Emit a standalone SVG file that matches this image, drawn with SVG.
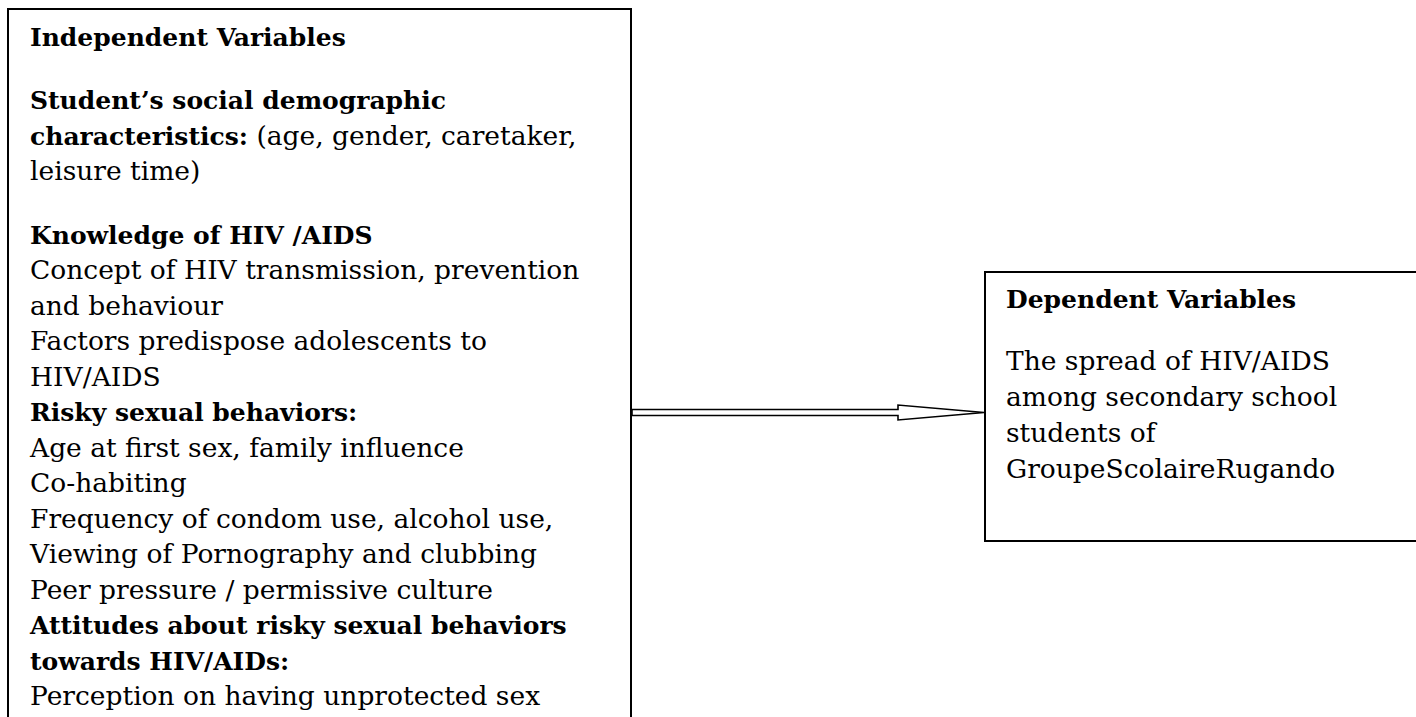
<svg xmlns="http://www.w3.org/2000/svg" width="1416" height="717" viewBox="0 0 1416 717">
<style>
  .box { fill: #ffffff; stroke: #000000; stroke-width: 2; }
  text { font-family: "DejaVu Serif", "Liberation Serif", serif; font-size: 26.5px; fill: #000000; }
  .b { font-weight: bold; font-size: 25px; }
  .arrow { fill: #ffffff; stroke: #000000; stroke-width: 1.6; stroke-linejoin: miter; }
</style>
<rect width="1416" height="717" fill="#ffffff"/>
<g id="independent">
  <rect class="box" x="8" y="9" width="623" height="720"/>
  <text x="30" y="46" class="b">Independent Variables</text>
  <text x="30" y="109" class="b">Student’s social demographic</text>
  <text x="30" y="144.5"><tspan class="b">characteristics:</tspan> (age, gender, caretaker,</text>
  <text x="30" y="180">leisure time)</text>
  <text x="30" y="243.5" class="b">Knowledge of HIV /AIDS</text>
  <text x="30" y="279">Concept of HIV transmission, prevention</text>
  <text x="30" y="314.5">and behaviour</text>
  <text x="30" y="350">Factors predispose adolescents to</text>
  <text x="30" y="385.5">HIV/AIDS</text>
  <text x="30" y="421" class="b">Risky sexual behaviors:</text>
  <text x="30" y="456.5">Age at first sex, family influence</text>
  <text x="30" y="492">Co-habiting</text>
  <text x="30" y="527.5">Frequency of condom use, alcohol use,</text>
  <text x="30" y="563">Viewing of Pornography and clubbing</text>
  <text x="30" y="598.5">Peer pressure / permissive culture</text>
  <text x="30" y="634" class="b">Attitudes about risky sexual behaviors</text>
  <text x="30" y="669.5" class="b">towards HIV/AIDs:</text>
  <text x="30" y="705">Perception on having unprotected sex</text>
</g>
<g id="dependent">
  <rect class="box" x="985" y="272" width="440" height="269"/>
  <text x="1006" y="308" class="b">Dependent Variables</text>
  <text x="1006" y="370">The spread of HIV/AIDS</text>
  <text x="1006" y="406">among secondary school</text>
  <text x="1006" y="442">students of</text>
  <text x="1006" y="478">GroupeScolaireRugando</text>
</g>
<g id="connectors">
  <polygon class="arrow" points="632,409.5 898,409.5 898,405 984,412.5 898,420 898,415.5 632,415.5"/>
</g>
</svg>
